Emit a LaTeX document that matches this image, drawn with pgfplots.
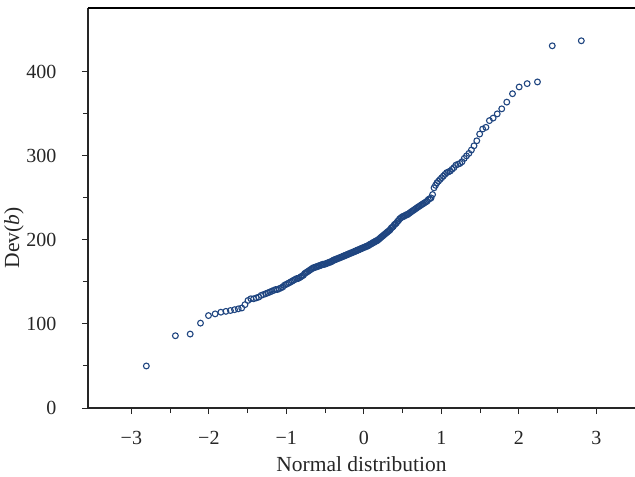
\documentclass[border=0pt]{standalone}
\usepackage{fontspec}
\setmainfont{Liberation Serif}
\usepackage{pgfplots}
\pgfplotsset{compat=1.18}
\definecolor{markblue}{RGB}{31,69,128}

\begin{document}
\begin{tikzpicture}
\begin{axis}[
  scale only axis,
  width=547pt, height=400pt,
  xmin=-3.56, xmax=3.5,
  ymin=0, ymax=476,
  axis lines=left,
  axis line style={-, black!85, line width=1.1pt},
  tick align=outside,
  xtick pos=bottom, ytick pos=left,
  xtick={-3,-2,-1,0,1,2,3},
  xticklabels={−3,−2,−1,0,1,2,3},
  ytick={0,100,200,300,400},
  minor x tick num=1, minor y tick num=1,
  major tick length=6pt, minor tick length=5pt,
  tick style={black!85, line width=1pt},
  every tick label/.append style={font=\fontsize{20}{22}\selectfont, text=black!85},
  /pgf/number format/assume math mode=true,
  xticklabel style={yshift=-14pt},
  yticklabel style={xshift=-22pt},
  xlabel={Normal distribution},
  ylabel={Dev(\textit{b})},
  label style={font=\fontsize{21.5}{24}\selectfont, text=black!85},
  xlabel style={at={(rel axis cs:0.5,0)}, yshift=-56pt, anchor=center},
  ylabel style={at={(rel axis cs:-0.1353,0.425)}, anchor=center},
  clip=false,
]
\addplot[only marks, mark=o, mark size=2.9pt, mark options={markblue, line width=1.1pt}]
  table {
x y
-2.807 50
-2.432 86
-2.241 88
-2.108 101
-2.005 110
-1.919 112
-1.845 114
-1.780 115
-1.722 116
-1.669 117
-1.621 118
-1.576 119
-1.534 123
-1.495 128
-1.458 130
-1.422 130
-1.388 131
-1.356 132
-1.325 134
-1.296 135
-1.267 136
-1.240 137
-1.213 138
-1.188 139
-1.163 140
-1.138 141
-1.115 141
-1.092 142
-1.069 143
-1.047 144
-1.026 146
-1.005 147
-0.984 148
-0.964 149
-0.944 150
-0.925 151
-0.906 152
-0.887 153
-0.868 154
-0.850 154
-0.832 155
-0.815 156
-0.798 157
-0.780 158
-0.764 160
-0.747 161
-0.731 162
-0.714 163
-0.698 164
-0.682 165
-0.667 166
-0.651 167
-0.636 167
-0.620 168
-0.605 168
-0.590 169
-0.576 169
-0.561 170
-0.546 170
-0.532 171
-0.518 171
-0.503 171
-0.489 172
-0.475 172
-0.461 173
-0.447 173
-0.434 174
-0.420 174
-0.406 175
-0.393 176
-0.379 176
-0.366 177
-0.352 177
-0.339 178
-0.326 178
-0.312 179
-0.299 179
-0.286 180
-0.273 180
-0.260 181
-0.247 181
-0.234 182
-0.221 182
-0.208 183
-0.196 183
-0.183 184
-0.170 184
-0.157 185
-0.145 185
-0.132 186
-0.119 186
-0.107 187
-0.094 187
-0.082 188
-0.069 188
-0.056 189
-0.044 189
-0.031 190
-0.019 190
-0.006 191
0.006 191
0.019 192
0.031 192
0.044 193
0.056 193
0.069 194
0.082 195
0.094 195
0.107 196
0.119 197
0.132 197
0.145 198
0.157 199
0.170 199
0.183 200
0.196 201
0.208 202
0.221 203
0.234 204
0.247 205
0.260 206
0.273 207
0.286 208
0.299 209
0.312 210
0.326 211
0.339 212
0.352 214
0.366 215
0.379 216
0.393 218
0.406 219
0.420 220
0.434 222
0.447 223
0.461 225
0.475 226
0.489 227
0.503 228
0.518 228
0.532 229
0.546 230
0.561 230
0.576 231
0.590 232
0.605 233
0.620 234
0.636 235
0.651 236
0.667 237
0.682 238
0.698 239
0.714 240
0.731 241
0.747 242
0.764 243
0.780 244
0.798 245
0.815 246
0.832 248
0.850 249
0.868 250
0.887 254
0.906 262
0.925 265
0.944 268
0.964 270
0.984 272
1.005 274
1.026 276
1.047 278
1.069 280
1.092 281
1.115 282
1.138 284
1.163 286
1.188 289
1.213 290
1.240 291
1.267 293
1.296 297
1.325 300
1.356 303
1.388 307
1.422 312
1.458 318
1.495 326
1.534 332
1.576 334
1.621 342
1.669 345
1.722 350
1.780 356
1.845 364
1.919 374
2.005 382
2.108 386
2.241 388
2.432 431
2.807 437
};
\draw[black, line width=2pt] (rel axis cs:0,1) -- (rel axis cs:1,1);
\coordinate (bl) at (rel axis cs:0,0);
\coordinate (tr) at (rel axis cs:1,1);
\end{axis}
\pgfresetboundingbox
\path ([shift={(-88pt,-68pt)}]bl) rectangle ([shift={(0pt,8pt)}]tr);
\end{tikzpicture}
\end{document}
